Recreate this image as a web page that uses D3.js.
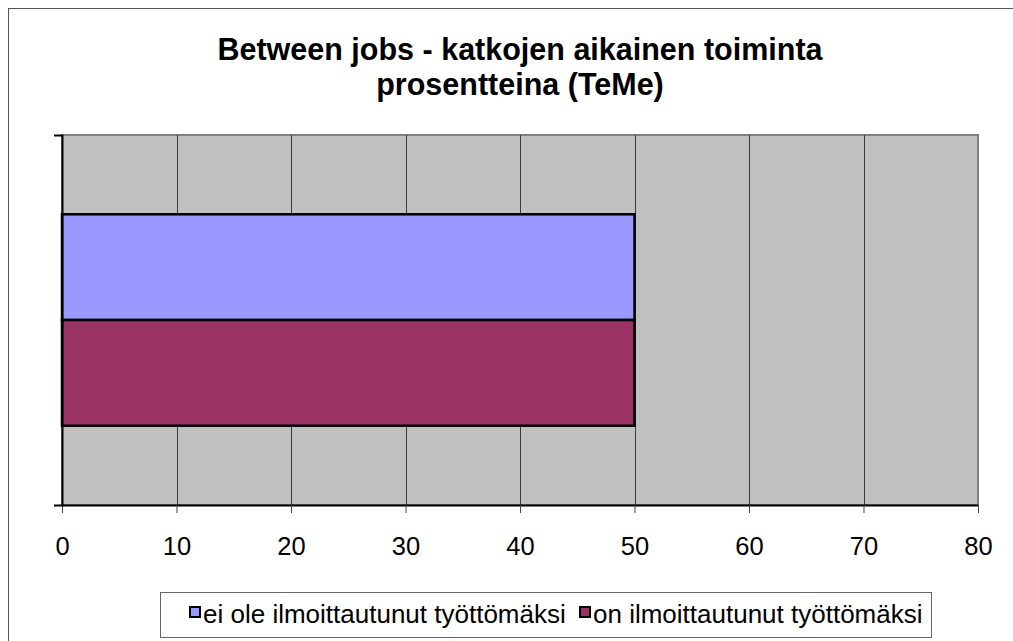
<!DOCTYPE html>
<html>
<head>
<meta charset="utf-8">
<style>
  body { margin: 0; background: #fff; }
  svg { display: block; font-family: "Liberation Sans", Arial, sans-serif; }
</style>
</head>
<body>
<svg width="1013" height="641"></svg>
<script src="https://d3js.org/d3.v7.min.js"></script>
<script>

var titleLines = ["Between jobs - katkojen aikainen toiminta", "prosentteina (TeMe)"];
var categories = ["TeMe"];
var seriesNames = ["ei ole ilmoittautunut työttömäksi", "on ilmoittautunut työttömäksi"];
var seriesValues = [50, 50];
var seriesColors = ["#9999FF", "#993366"];
var xTicks = [0, 10, 20, 30, 40, 50, 60, 70, 80];

var svg = d3.select("svg"),
    margin = {top: 135, left: 62},
    width = 916,
    height = 370,
    g = svg.append("g").attr("transform", "translate(" + margin.left + "," + margin.top + ")");

// outer chart frame
svg.append("rect")
    .attr("x", 8.5).attr("y", 8.5)
    .attr("width", 1040).attr("height", 660)
    .attr("fill", "none")
    .attr("stroke", "#555")
    .attr("stroke-width", 1);

svg.append("text")
    .attr("x", 520)
    .attr("y", 60)
    .attr("text-anchor", "middle")
    .style("font-size", "30.5px")
    .style("font-weight", "bold")
    .selectAll("tspan")
    .data(titleLines)
    .enter().append("tspan")
      .attr("x", 520)
      .attr("dy", function(d, i) { return i ? 35 : 0; })
      .text(function(d) { return d; });

var x = d3.scaleLinear().domain([0, 80]).range([0, width]);
var y = d3.scaleBand().domain(categories).range([0, height]).paddingInner(0).paddingOuter(0);
var inner = d3.scaleBand().domain(seriesNames).range([0, y.bandwidth()]).paddingOuter(0.75);

// plot area with shadow-ish border
g.append("rect")
    .attr("x", 0).attr("y", 0)
    .attr("width", width).attr("height", height)
    .attr("fill", "#C0C0C0")
    .attr("stroke", "#808080")
    .attr("stroke-width", 2);

g.append("g")             //gridlines
    .selectAll("line")
    .data(xTicks.slice(1, -1))
    .enter().append("line")
      .attr("x1", function(d) { return Math.round(x(d)) + 0.5; })
      .attr("x2", function(d) { return Math.round(x(d)) + 0.5; })
      .attr("y1", 0).attr("y2", height)
      .attr("stroke", "#3a3a3a")
      .attr("stroke-width", 1);

var bars = g.append("g").selectAll("rect")
    .data(seriesValues)
    .enter().append("rect")
      .attr("x", x(0))
      .attr("y", function(d, i) { return y(categories[0]) + inner(seriesNames[i]); })
      .attr("width", function(d) { return x(d) - x(0); })
      .attr("height", inner.bandwidth())
      .attr("fill", function(d, i) { return seriesColors[i]; })
      .attr("stroke", "#000")
      .attr("stroke-width", 2.5);

g.append("g")             //xAxis
    .attr("transform", "translate(0," + height + ")")
    .call(d3.axisBottom(x).tickValues(xTicks).tickSizeInner(8).tickSizeOuter(0).tickPadding(24))
    .call(function(a) {
      a.select(".domain").attr("stroke", "#000").attr("stroke-width", 2);
      a.selectAll(".tick line").attr("stroke", "#444");
      a.selectAll(".tick text")
        .attr("fill", "#000")
        .style("font-family", "'Liberation Sans', Arial, sans-serif")
        .style("font-size", "25.5px");
    });

g.append("g")             //yAxis
    .call(d3.axisLeft(y).tickValues([]).tickSizeOuter(8))
    .call(function(a) {
      a.select(".domain").attr("stroke", "#000").attr("stroke-width", 2);
    });

// legend
var legend = svg.append("g").attr("transform", "translate(160,592)");
legend.append("rect")
    .attr("x", 0.5).attr("y", 0.5)
    .attr("width", 771).attr("height", 45)
    .attr("fill", "#fff")
    .attr("stroke", "#666")
    .attr("stroke-width", 1);

var legX = [30, 420];
var item = legend.selectAll(".item")
    .data(seriesNames)
    .enter().append("g")
      .attr("class", "item")
      .attr("transform", function(d, i) { return "translate(" + legX[i] + ",0)"; });
item.append("rect")
    .attr("x", 0).attr("y", 15)
    .attr("width", 10).attr("height", 10)
    .attr("fill", function(d, i) { return seriesColors[i]; })
    .attr("stroke", "#000")
    .attr("stroke-width", 2);
item.append("text")
    .attr("x", 13)
    .attr("y", 31)
    .style("font-size", "26px")
    .text(function(d) { return d; });

</script>
</body>
</html>
